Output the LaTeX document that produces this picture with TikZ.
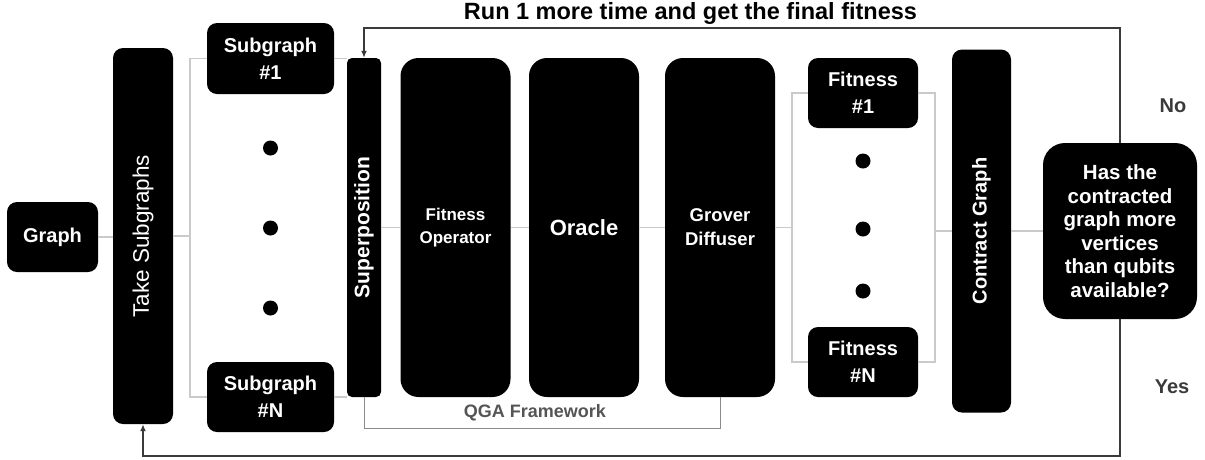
\documentclass[tikz,border=0pt]{standalone}
\usepackage{fontspec}
\setmainfont{Liberation Sans}
\usepackage{graphicx}
\usepackage{tikz}
\usetikzlibrary{arrows.meta, calc}
\definecolor{grigio}{HTML}{CACACA}
\definecolor{scuro}{HTML}{3A3A3A}
\definecolor{cornice}{HTML}{8A8A8A}
\definecolor{qgatesto}{HTML}{555555}
\newcommand{\fs}[2]{\fontsize{#1}{#2}\selectfont}

\begin{document}
\begin{tikzpicture}[x=1pt, y=-1pt,
    blocco/.style = {fill=black, text=white, align=center, inner sep=0pt, rounded corners=10pt, font=\bfseries\fs{20}{27}},
    colonna/.style = {blocco, minimum width=110pt, minimum height=339pt, rounded corners=18pt},
    punto/.style = {circle, fill=black, minimum size=15pt, inner sep=0pt},
    linea/.style = {draw=grigio, line width=1.2pt},
    ritorno/.style = {draw=scuro, line width=1.4pt, -{Latex[length=7pt,width=6pt]}},
    nota/.style = {text=scuro, font=\bfseries\fs{20}{24}}]
    \useasboundingbox (0,0) rectangle (1205,459);
    % Parametri
    \pgfmathsetmacro{\yMedio}{227.5}
    \pgfmathsetmacro{\yAlto}{28}
    \pgfmathsetmacro{\yBasso}{456}
    % Blocchi a sinistra
    \node[blocco, minimum width=91pt, minimum height=70pt] (graph) at (52.5,237) {Graph};
    \node[blocco, minimum width=60pt, minimum height=376pt, font=\mdseries\fs{22.5}{24}] (take) at (143,236) {\rotatebox{90}{Take Subgraphs}};
    \node[blocco, minimum width=127pt, minimum height=71pt] (sub1) at (270.5,58.5) {Subgraph\\\#1};
    \node[blocco, minimum width=127pt, minimum height=70pt] (subN) at (270.5,397) {Subgraph\\\#N};
    \foreach \y [count=\i] in {148,228,308}
        \node[punto] (ds\i) at (270.5,\y) {};
    % QGA
    \node[blocco, minimum width=34pt, minimum height=339pt, rounded corners=5pt, font=\bfseries\fs{21}{24}] (sup) at (364,\yMedio) {\rotatebox{90}{Superposition}};
    \node[colonna, font=\bfseries\fs{17}{23}] (fop) at (455.5,\yMedio) {Fitness\\Operator};
    \node[colonna, font=\bfseries\fs{22}{26}] (orc) at (584,\yMedio) {Oracle};
    \node[colonna, font=\bfseries\fs{18.5}{24}] (grv) at (720,\yMedio) {Grover\\Diffuser};
    \node[font=\bfseries\fs{18}{20}, text=qgatesto] (qga) at (535,413) {QGA Framework};
    % Blocchi a destra
    \node[blocco, minimum width=110pt, minimum height=70pt] (fit1) at (863,93) {Fitness\\\#1};
    \node[blocco, minimum width=110pt, minimum height=70pt] (fitN) at (863,362) {Fitness\\\#N};
    \foreach \y [count=\i] in {161,229,291}
        \node[punto] (df\i) at (863,\y) {};
    \node[blocco, minimum width=59pt, minimum height=363pt] (con) at (981.5,231) {\rotatebox{90}{Contract Graph}};
    \node[blocco, minimum width=154pt, minimum height=176pt, rounded corners=22pt, font=\bfseries\fs{20.5}{23.5}] (dec) at (1120,231) {Has the\\contracted\\graph more\\vertices\\than qubits\\available?};
    % Testi
    \node[font=\bfseries\fs{23.5}{26}] (titolo) at (690.5,13) {Run 1 more time and get the final fitness};
    \node[nota] (no) at (1173,106) {No};
    \node[nota] (yes) at (1172,387) {Yes};
    % Collegamenti
    \coordinate (sx) at (190,236);
    \coordinate (fx) at (792,\yMedio);
    \coordinate (gx) at (935,231);
    \draw[linea] (graph.east) -- (graph.east -| take.west);
    \draw[linea] (take.east) -- (sx);
    \draw[linea] (sub1.west) -| (sx) |- (subN.west);
    \draw[linea] (sub1.east) -- (sub1.east -| sup.west);
    \draw[linea] (subN.east) -- (subN.east -| sup.west);
    \draw[linea] (sup) -- (fop) (fop) -- (orc) (orc) -- (grv) (grv) -- (fx);
    \draw[linea] (fit1.west) -| (fx) |- (fitN.west);
    \draw[linea] (fit1.east) -| (gx) |- (fitN.east);
    \draw[linea] (gx) -- (con) (con) -- (dec);
    \draw[cornice, line width=1pt] (sup.south) -- ++(0,31) -| (grv.south);
    % Ritorni
    \draw[ritorno] (dec.north) -- (dec.north |- 0,\yAlto) -| (sup.north);
    \draw[ritorno] (dec.south) -- (dec.south |- 0,\yBasso) -| (take.south);
\end{tikzpicture}
\end{document}
